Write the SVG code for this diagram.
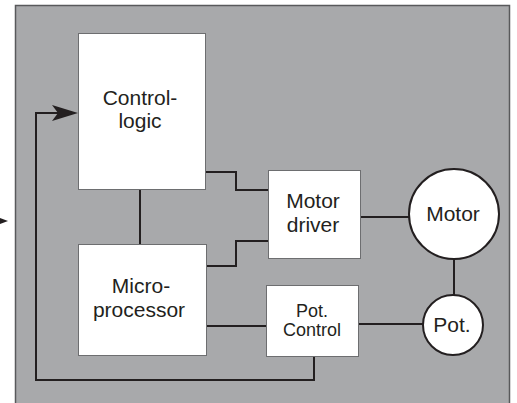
<svg xmlns="http://www.w3.org/2000/svg" width="517" height="403" viewBox="0 0 517 403">
<defs>
<style>
.bg{fill:#a8a9ab;stroke:#58595b;stroke-width:1.5}
.box{fill:#fff;stroke:#6d6e70;stroke-width:1}
.circ{fill:#fff;stroke:#231f20;stroke-width:2}
.wire{fill:none;stroke:#231f20;stroke-width:2}
text{font-family:"Liberation Sans",Arial,sans-serif;fill:#231f20;text-anchor:middle}
.t21{font-size:21px}
.t18{font-size:18px}
</style>
</defs>
<rect class="bg" x="15.5" y="5.5" width="494" height="400"/>
<polygon points="8,221 0,218 0,224" fill="#231f20"/>
<g id="connectors">
<polyline class="wire" points="314,357 314,380 36,380 36,113 60,113"/>
<polygon points="78,113 52,105 58,113 52,121" fill="#231f20"/>
<line class="wire" x1="140" y1="189" x2="140" y2="244"/>
<polyline class="wire" points="205,172 236,172 236,190 268,190"/>
<polyline class="wire" points="207,266 236,266 236,241 268,241"/>
<line class="wire" x1="207" y1="326" x2="266" y2="326"/>
<line class="wire" x1="361" y1="217" x2="409" y2="217"/>
<line class="wire" x1="454" y1="259" x2="454" y2="295"/>
<line class="wire" x1="359" y1="324" x2="423" y2="324"/>
</g>
<g id="control-logic">
<rect class="box" x="78.5" y="33.5" width="127" height="156"/>
<text class="t21" x="140" y="105">Control-</text>
<text class="t21" x="140" y="128">logic</text>
</g>
<g id="microprocessor">
<rect class="box" x="78.5" y="244.5" width="128" height="111"/>
<text class="t21" x="141" y="293">Micro-</text>
<text class="t21" x="139" y="317">processor</text>
</g>
<g id="motor-driver">
<rect class="box" x="268.5" y="170.5" width="92" height="88"/>
<text class="t21" x="313" y="208">Motor</text>
<text class="t21" x="313" y="232">driver</text>
</g>
<g id="pot-control">
<rect class="box" x="266.5" y="285.5" width="92" height="71"/>
<text class="t18" x="312" y="317">Pot.</text>
<text class="t18" x="312" y="336">Control</text>
</g>
<g id="motor">
<circle class="circ" cx="454" cy="214" r="45"/>
<text class="t21" x="453" y="221">Motor</text>
</g>
<g id="pot">
<circle class="circ" cx="453" cy="325" r="30"/>
<text class="t21" x="452" y="332">Pot.</text>
</g>
</svg>
